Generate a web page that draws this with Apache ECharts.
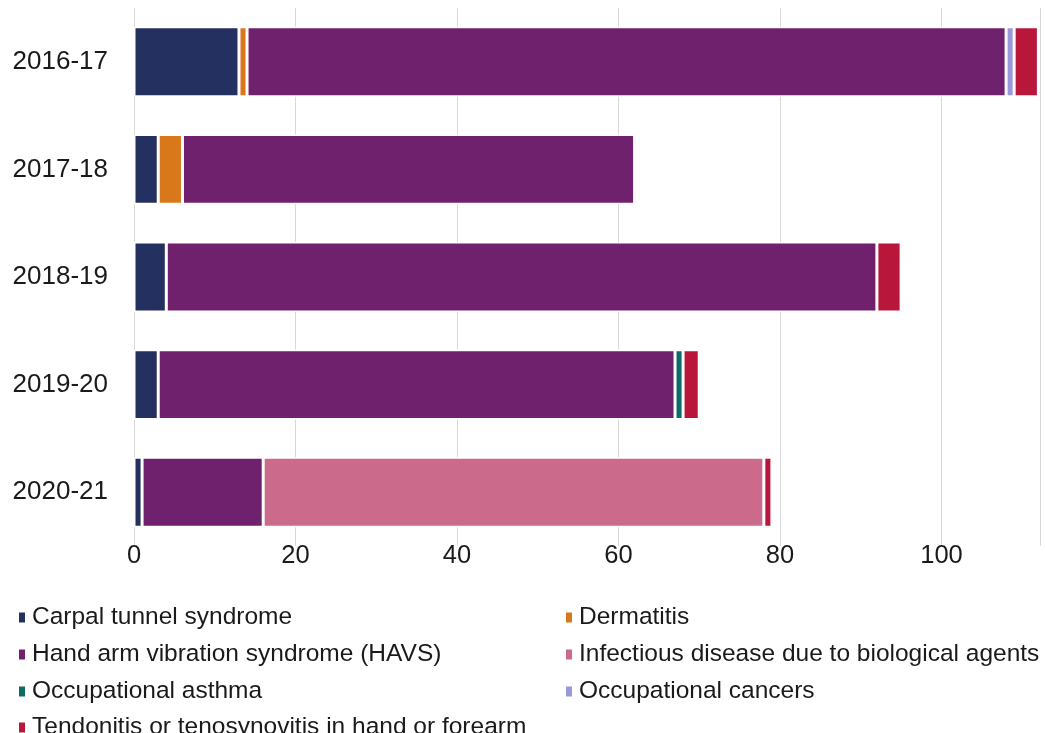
<!DOCTYPE html>
<html>
<head>
<meta charset="utf-8">
<script src="https://cdn.jsdelivr.net/npm/echarts@6/dist/echarts.min.js"></script>
<style>
  html, body { margin: 0; padding: 0; background: #ffffff; }
  #chart { width: 1045px; height: 733px; }
</style>
</head>
<body>
<div id="chart"></div>
<script>
// Reported cases by year (categories listed top to bottom)
const years = ['2016-17', '2017-18', '2018-19', '2019-20', '2020-21'];
const xTicks = [0, 20, 40, 60, 80, 100];

const carpalTunnel   = [13, 3, 4, 3, 1];
const dermatitis     = [1, 3, 0, 0, 0];
const havs           = [94, 56, 88, 64, 15];
const infectious     = [0, 0, 0, 0, 62];
const asthma         = [0, 0, 0, 1, 0];
const cancers        = [1, 0, 0, 0, 0];
const tendonitis     = [3, 0, 3, 2, 1];

const seriesDefs = [
  { name: 'Carpal tunnel syndrome', data: carpalTunnel, color: '#24305f' },
  { name: 'Dermatitis', data: dermatitis, color: '#d9781b' },
  { name: 'Hand arm vibration syndrome (HAVS)', data: havs, color: '#70216d' },
  { name: 'Infectious disease due to biological agents', data: infectious, color: '#cb6a8b' },
  { name: 'Occupational asthma', data: asthma, color: '#0f6b66' },
  { name: 'Occupational cancers', data: cancers, color: '#9a98d8' },
  { name: 'Tendonitis or tenosynovitis in hand or forearm', data: tendonitis, color: '#b9163b' }
];

// Two-column legend: one legend component per entry so the columns line up
const legendColumns = [17, 564];
const legendRows = [605, 642, 679, 715];

const chart = echarts.init(document.getElementById('chart'), null, { renderer: 'canvas' });

const fontFamily = 'Liberation Sans, Arial, sans-serif';
const legends = seriesDefs.map((s, i) => ({
  orient: 'horizontal',
  left: legendColumns[i % 2],
  top: legendRows[Math.floor(i / 2)],
  icon: 'rect',
  itemWidth: 8,
  itemHeight: 12,
  textStyle: { fontFamily: fontFamily, fontSize: 24.5, color: '#1a1a1a', padding: [0, 0, 0, 1] },
  selectedMode: false,
  padding: 0,
  data: [s.name]
}));

chart.setOption({
  animation: false,
  grid: { left: 134, right: 5, top: 8, bottom: 187, containLabel: false },
  xAxis: {
    type: 'value',
    min: 0,
    max: 112.2,
    interval: 20,
    axisLine: { show: false },
    axisTick: { show: false },
    splitLine: { lineStyle: { color: '#d9d9d9', width: 1 } },
    axisLabel: {
      fontFamily: fontFamily,
      fontSize: 25.5,
      color: '#1a1a1a',
      margin: -3,
      showMaxLabel: false,
      formatter: v => (xTicks.indexOf(v) >= 0 ? String(v) : '')
    }
  },
  yAxis: {
    type: 'category',
    data: years,
    inverse: true,
    axisLine: { show: true, lineStyle: { color: '#d9d9d9' } },
    axisTick: { show: false },
    axisLabel: {
      fontFamily: fontFamily,
      fontSize: 26,
      color: '#1a1a1a',
      margin: 26
    }
  },
  legend: legends,
  series: seriesDefs.map(s => ({
    name: s.name,
    type: 'bar',
    stack: 'total',
    data: s.data,
    barCategoryGap: '35%',
    itemStyle: { color: s.color, borderColor: '#ffffff', borderWidth: 1.5 },
    emphasis: { disabled: true }
  }))
});
</script>
</body>
</html>
